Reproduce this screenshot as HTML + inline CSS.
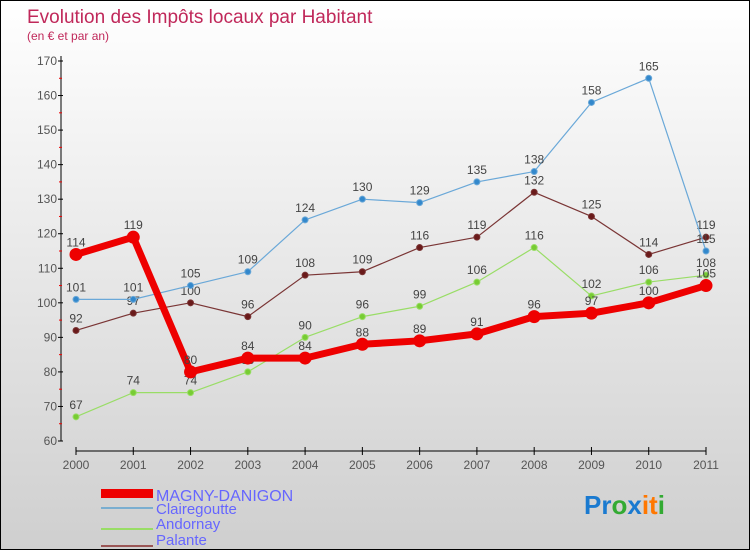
<!DOCTYPE html>
<html><head><meta charset="utf-8"><style>
body{margin:0}
#c{width:750px;height:550px;position:relative;box-sizing:border-box;border:1px solid #000;background:linear-gradient(#ffffff,#cfcfcf);font-family:"Liberation Sans",sans-serif;overflow:hidden}
svg text{font-family:"Liberation Sans",sans-serif}
</style></head><body>
<div id="c">
<svg id="s" width="750" height="550">
<text x="26" y="22" font-size="19" fill="#c0285a">Evolution des Impôts locaux par Habitant</text>
<text x="26" y="39" font-size="12" fill="#c0285a">(en € et par an)</text>
<g id="axes"></g><g id="series"></g>
<g>
<rect x="100" y="488" width="52" height="9" fill="#e00"/>
<text x="155" y="500" font-size="16" fill="#6666ff">MAGNY-DANIGON</text>
<rect x="100" y="506" width="52" height="2" fill="#7aaed0"/>
<text x="155" y="513" font-size="15" fill="#6666ff">Clairegoutte</text>
<rect x="100" y="527" width="52" height="2" fill="#99dd66"/>
<text x="155" y="528" font-size="15" fill="#6666ff">Andornay</text>
<rect x="100" y="544" width="52" height="2" fill="#9a5555"/>
<text x="155" y="544" font-size="15" fill="#6666ff">Palante</text>
</g>
<text x="583" y="513" font-size="26" font-weight="bold"><tspan fill="#1a7ad0">Pr</tspan><tspan fill="#33aa33">o</tspan><tspan fill="#1a7ad0">x</tspan><tspan fill="#ff7700">it</tspan><tspan fill="#33aa33">i</tspan></text>
</svg></div>
<script>
const years=[2000,2001,2002,2003,2004,2005,2006,2007,2008,2009,2010,2011];
const yTicks=[60,70,80,90,100,110,120,130,140,150,160,170];
const magny=[114,119,80,84,84,88,89,91,96,97,100,105];
const clairegoutte=[101,101,105,109,124,130,129,135,138,158,165,115];
const andornay=[67,74,74,80,90,96,99,106,116,102,106,108];
const palante=[92,97,100,96,108,109,116,119,132,125,114,119];
const NS="http://www.w3.org/2000/svg";
const X=i=>75+i*(630/11);
const Y=v=>440-(v-60)*(380/110);
function mk(t,a,p){const e=document.createElementNS(NS,t);for(const k in a)e.setAttribute(k,a[k]);p.appendChild(e);return e;}
const ax=document.getElementById('axes');
const yl=mk('line',{x1:60,y1:55,x2:60,y2:440,stroke:'#000'},ax);


yTicks.forEach((v,i)=>{
  mk('line',{x1:57,y1:Y(v),x2:62,y2:Y(v),stroke:'#000'},ax);
  if(i<yTicks.length-1) mk('line',{x1:58,y1:Y(v+5),x2:61,y2:Y(v+5),stroke:'#e00'},ax);
  const t=mk('text',{x:56,y:Y(v)+4,'font-size':12,fill:'#555','text-anchor':'end'},ax);
  t.textContent=v;
  
  
});
const xl=mk('line',{x1:75,y1:450,x2:705,y2:450,stroke:'#000'},ax);


years.forEach((y,i)=>{
  mk('line',{x1:X(i),y1:446,x2:X(i),y2:454,stroke:'#000'},ax);
  const t=mk('text',{x:X(i),y:468,'font-size':12,fill:'#555','text-anchor':'middle'},ax);
  t.textContent=y;
  
  
});
const sg=document.getElementById('series');
function draw(name,data,color,w,r,dot){
  const g=mk('g',{},sg);
  
  
  const pl=mk('polyline',{points:data.map((v,i)=>X(i)+','+Y(v)).join(' '),fill:'none',stroke:color,'stroke-width':w,'stroke-linejoin':'round'},g);
  
  
  data.forEach((v,i)=>{
    const c=mk('circle',{cx:X(i),cy:Y(v),r:r,fill:dot,stroke:color,'stroke-width':1},g);
    
    
    const t=mk('text',{x:X(i),y:Y(v)-8,'font-size':12,fill:'#444','text-anchor':'middle'},g);
    t.textContent=v;
    
    
  });
}
draw('palante',palante,'#7a3535',1.2,3,'#6a1a1a');
draw('andornay',andornay,'#99dd66',1.2,3,'#77cc33');
draw('clairegoutte',clairegoutte,'#6aa8d8',1.2,3,'#3388cc');
draw('magny',magny,'#ee0000',7,6,'#ee0000');
</script>
</body></html>
